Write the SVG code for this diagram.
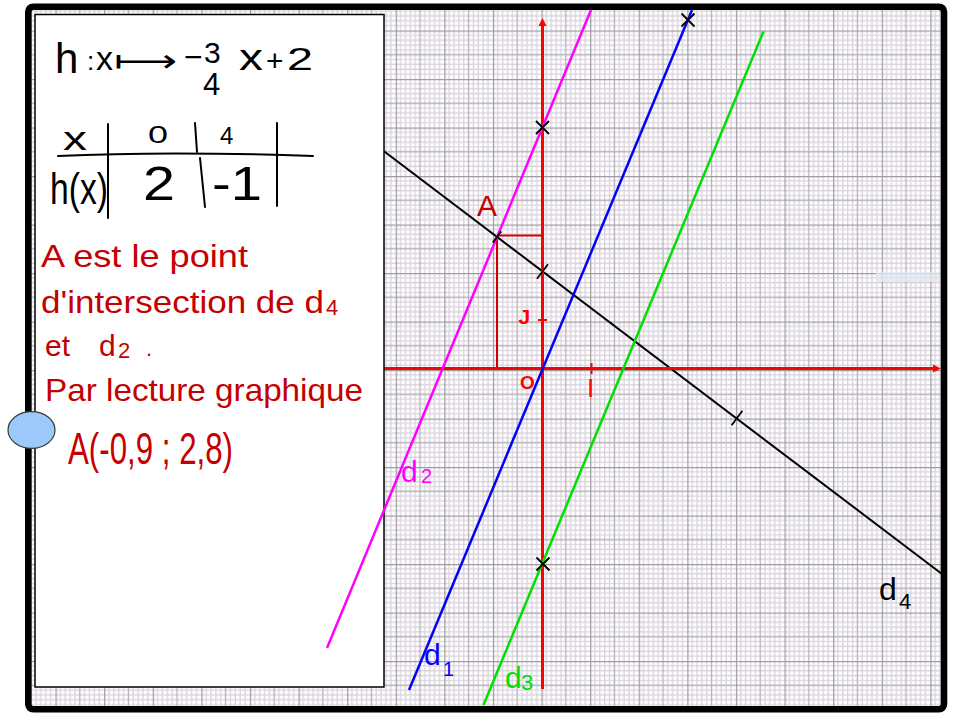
<svg xmlns="http://www.w3.org/2000/svg" width="955" height="716" viewBox="0 0 955 716">
<defs>
<pattern id="grid" patternUnits="userSpaceOnUse" x="541.5" y="370" width="48.6" height="48.5">
<rect width="48.6" height="48.5" fill="#ffffff"/>
<path d="M4.86 0V48.5M9.72 0V48.5M14.58 0V48.5M19.44 0V48.5M29.16 0V48.5M34.02 0V48.5M38.88 0V48.5M43.74 0V48.5M0 4.85H48.6M0 9.7H48.6M0 14.55H48.6M0 19.4H48.6M0 29.1H48.6M0 33.95H48.6M0 38.8H48.6M0 43.65H48.6" stroke="#dbd4de" stroke-width="1.4"/>
<path d="M24.3 0V48.5M0 24.25H48.6" stroke="#b4b0b6" stroke-width="1.3"/>
<path d="M0.6 0V48.5M0 0.6H48.6" stroke="#9e9c9f" stroke-width="1.3"/>
</pattern>
<style>
.hw{font-family:"Liberation Sans","DejaVu Sans",sans-serif}
.red{fill:#c40000}
.ink{fill:#000000}
.ax{stroke:#ff0000;stroke-width:3;fill:none}
.proj{stroke:#d00000;stroke-width:2;fill:none}
.mk{stroke:#000000;stroke-width:1.8;fill:none}
.tbl{stroke:#000000;stroke-width:2;fill:none;stroke-linecap:round}
</style>
</defs>

<!-- graph paper -->
<rect x="28" y="7" width="916" height="702" fill="url(#grid)"/>
<rect x="876" y="272" width="64" height="10" fill="#e2e7f0" opacity="0.8"/>

<!-- d4 and axes (under panel) -->
<g id="d4">
<path d="M383 150.5L942 574" stroke="#000" stroke-width="2" fill="none"/>
</g>
<g id="axes">
<path class="ax" d="M384 368.5H935"/>
<polygon points="941,368.5 933,364.5 933,372.5" fill="#ff0000"/>
<path class="ax" d="M542.5 689V25"/>
<polygon points="542.5,18 538.5,26 546.5,26" fill="#ff0000"/>
<path d="M538 320H547M591.5 363V374" stroke="#ff0000" stroke-width="2"/>
<text class="hw" x="518.5" y="324" font-size="21" font-weight="bold" fill="#ff0000">J</text>
<text class="hw" x="520" y="389" font-size="19" font-weight="bold" fill="#ff0000">O</text>
<text class="hw" x="587" y="397" font-size="26" fill="#ff0000">I</text>
</g>

<!-- left panel -->
<g id="panel">
<rect x="35" y="14.5" width="349" height="672.5" fill="#ffffff" stroke="#000" stroke-width="1.5"/>
<g id="formula" class="hw ink">
<text x="55" y="73" font-size="42">h</text>
<text x="87" y="70" font-size="26">:</text>
<text x="96" y="70" font-size="34" textLength="17" lengthAdjust="spacingAndGlyphs">x</text>
<text x="114" y="72" font-size="32" font-family="DejaVu Sans,sans-serif" textLength="63" lengthAdjust="spacingAndGlyphs">⟼</text>
<text x="184" y="68" font-size="32">−</text>
<text x="204" y="63" font-size="30">3</text>
<text x="203" y="95" font-size="31">4</text>
<text x="239" y="70" font-size="36" textLength="24" lengthAdjust="spacingAndGlyphs">x</text>
<text x="266" y="71" font-size="30">+</text>
<text x="287" y="70" font-size="32" textLength="26" lengthAdjust="spacingAndGlyphs">2</text>
</g>
<g id="table">
<path class="tbl" d="M58 156C120 153 200 152 313 156"/>
<path class="tbl" d="M108 124V218M195 123L197 152M200 158L205 207M277 123V206"/>
<g class="hw ink">
<text x="63" y="150" font-size="34" textLength="24" lengthAdjust="spacingAndGlyphs">x</text>
<text x="148" y="143" font-size="24" textLength="20" lengthAdjust="spacingAndGlyphs">0</text>
<text x="220" y="144" font-size="24">4</text>
<text x="50" y="204" font-size="44" textLength="58" lengthAdjust="spacingAndGlyphs">h(x)</text>
<text x="143" y="200" font-size="48" textLength="32" lengthAdjust="spacingAndGlyphs">2</text>
<text x="212" y="200" font-size="48" textLength="50" lengthAdjust="spacingAndGlyphs">-1</text>
</g>
</g>
<g id="notes" class="hw red">
<text x="41" y="267" font-size="32" textLength="207" lengthAdjust="spacingAndGlyphs">A est le point</text>
<text x="41" y="313" font-size="32" textLength="283" lengthAdjust="spacingAndGlyphs">d'intersection de d</text>
<text x="326" y="315" font-size="22">4</text>
<text x="45" y="356" font-size="30">et</text>
<text x="99" y="356" font-size="30">d</text>
<text x="118" y="358" font-size="22">2</text>
<text x="146" y="356" font-size="22">.</text>
<text x="45" y="401" font-size="32" textLength="318" lengthAdjust="spacingAndGlyphs">Par lecture graphique</text>
<text x="68" y="464" font-size="44" textLength="165" lengthAdjust="spacingAndGlyphs">A(-0,9 ; 2,8)</text>
</g>
</g>

<!-- projection of A -->
<g id="pointA">
<path class="proj" d="M497 235.5H542M497 235.5V368"/>
<text class="hw" x="477" y="216" font-size="30" fill="#c40000">A</text>
</g>

<!-- lines d2, d1, d3 -->
<g id="d2">
<path d="M327 648L591 10" stroke="#ff00ff" stroke-width="2.5" fill="none"/>
<text class="hw" x="401" y="481.5" font-size="30" fill="#ff00ff">d</text>
<text class="hw" x="421" y="483" font-size="20" fill="#ff00ff">2</text>
</g>
<g id="d1">
<path d="M409 690L692 10" stroke="#0000ff" stroke-width="2.5" fill="none"/>
<text class="hw" x="424" y="665" font-size="30" fill="#0000ff">d</text>
<text class="hw" x="443" y="676" font-size="20" fill="#0000ff">1</text>
</g>
<g id="d3">
<path d="M483.5 705L763.5 31.5" stroke="#00e000" stroke-width="2.5" fill="none"/>
<text class="hw" x="505" y="688" font-size="30" fill="#00dd00">d</text>
<text class="hw" x="521" y="690" font-size="22" fill="#00dd00">3</text>
</g>
<text class="hw" x="879" y="600" font-size="32" fill="#000">d</text>
<text class="hw" x="899" y="609" font-size="22" fill="#000">4</text>

<!-- marks -->
<g id="marks">
<path class="mk" d="M536 121L549 134M549 121L536 134"/>
<path class="mk" d="M681.5 13.5L694.5 26.5M694.5 13.5L681.5 26.5"/>
<path class="mk" d="M536.5 557.5L549.5 570.5M549.5 557.5L536.5 570.5"/>
<path class="mk" d="M537 278.7L548 264.3M731.6 425.2L742.4 410.8M492.8 242.6L501.2 231.4"/>
</g>

<!-- frame -->
<rect x="28.3" y="6.7" width="915.7" height="702.6" rx="5" fill="none" stroke="#000" stroke-width="6.6"/>
<ellipse cx="31.5" cy="430" rx="23.5" ry="18.3" fill="#9cc9fb" stroke="#3a3a3a" stroke-width="1.2"/>
</svg>
